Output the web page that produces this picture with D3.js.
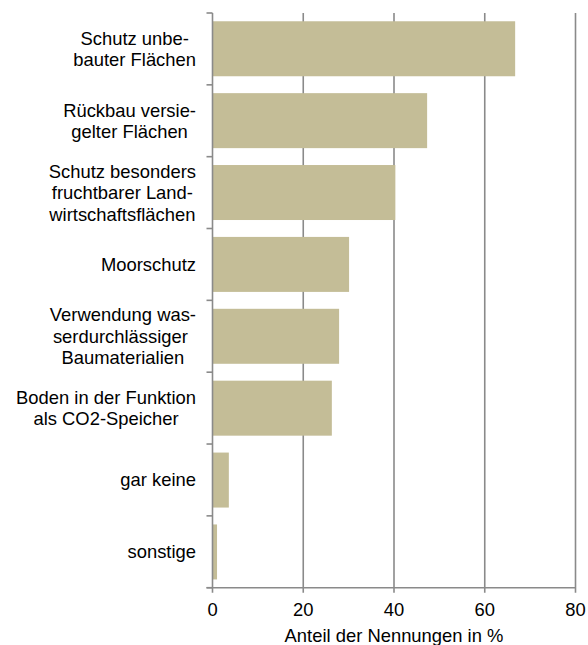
<!DOCTYPE html>
<html lang="de">
<head>
<meta charset="UTF-8">
<title>Anteil der Nennungen</title>
<script src="https://d3js.org/d3.v7.min.js"></script>
<style>
  body { margin: 0; background: #fff; }
  text { font-family: "Liberation Sans", Arial, sans-serif; font-size: 18.4px; fill: #000; }
</style>
</head>
<body>
<div id="chart"></div>
<script>
// Kategorien (mit Zeilenumbrüchen wie im Original)
var categories = [
    ["Schutz unbe-", "bauter Flächen"],
    ["Rückbau versie-", "gelter Flächen"],
    ["Schutz besonders", "fruchtbarer Land-", "wirtschaftsflächen"],
    ["Moorschutz"],
    ["Verwendung was-", "serdurchlässiger ", "Baumaterialien"],
    ["Boden in der Funktion", "als CO2-Speicher"],
    ["gar keine"],
    ["sonstige"]
];
var values = [66.7, 47.3, 40.3, 30.1, 27.9, 26.3, 3.6, 1.0];
var xTicks = [0, 20, 40, 60, 80];
var xTitle = "Anteil der Nennungen in %";

var w = 588, h = 645;
var pLeft = 212.5, pRight = 575.5, pTop = 13, pBottom = 587.7;

var svg = d3.select("#chart").append("svg")
    .attr("width", w)
    .attr("height", h);

var x = d3.scaleLinear().domain([0, 80]).range([pLeft, pRight]);
var y = d3.scaleBand().domain(d3.range(categories.length)).range([pTop, pBottom])
    .paddingInner(0.235).paddingOuter(0.115);
var band = (pBottom - pTop) / categories.length;

// gitterlinien
svg.selectAll("line.grid")
    .data(xTicks.slice(1))
    .enter().append("line")
    .attr("x1", function(d) { return x(d); })
    .attr("x2", function(d) { return x(d); })
    .attr("y1", pTop)
    .attr("y2", pBottom + 5)
    .attr("stroke", "#8a8a8a")
    .attr("stroke-width", 1.6);

// balken
svg.selectAll("rect")
    .data(values)
    .enter().append("rect")
    .attr("x", x(0))
    .attr("y", function(d, i) { return y(i); })
    .attr("width", function(d) { return x(d) - x(0); })
    .attr("height", y.bandwidth())
    .attr("fill", "#c4bd97");

// y achse
svg.append("line")
    .attr("x1", pLeft).attr("x2", pLeft)
    .attr("y1", pTop).attr("y2", pBottom + 5)
    .attr("stroke", "#8a8a8a").attr("stroke-width", 1.6);
svg.selectAll("line.ytick")
    .data(d3.range(categories.length + 1))
    .enter().append("line")
    .attr("x1", pLeft - 6).attr("x2", pLeft)
    .attr("y1", function(d) { return pTop + d * band; })
    .attr("y2", function(d) { return pTop + d * band; })
    .attr("stroke", "#8a8a8a").attr("stroke-width", 1.6);

// x achse
svg.append("line")
    .attr("x1", pLeft - 6).attr("x2", pRight)
    .attr("y1", pBottom).attr("y2", pBottom)
    .attr("stroke", "#8a8a8a").attr("stroke-width", 1.6);

svg.selectAll("text.xtick")
    .data(xTicks)
    .enter().append("text")
    .attr("class", "xtick")
    .attr("x", function(d) { return x(d); })
    .attr("y", 615.5)
    .attr("text-anchor", "middle")
    .text(function(d) { return d; });

svg.append("text")
    .attr("x", 394)
    .attr("y", 641.5)
    .attr("text-anchor", "middle")
    .text(xTitle);

// kategorie beschriftung, block rechtsbündig, zeilen zentriert
var lineH = 21.5;
categories.forEach(function(lines, i) {
    var g = svg.append("g");
    var cy = pTop + (i + 0.5) * band;
    var t = g.append("text").attr("text-anchor", "middle");
    lines.forEach(function(l, j) {
        t.append("tspan")
            .attr("x", 0)
            .attr("y", cy + (j - (lines.length - 1) / 2) * lineH + 6.5)
            .text(l);
    });
    var maxW = 0;
    t.selectAll("tspan").each(function() {
        maxW = Math.max(maxW, this.getComputedTextLength());
    });
    g.attr("transform", "translate(" + (196 - maxW / 2) + ",0)");
});
</script>
</body>
</html>
